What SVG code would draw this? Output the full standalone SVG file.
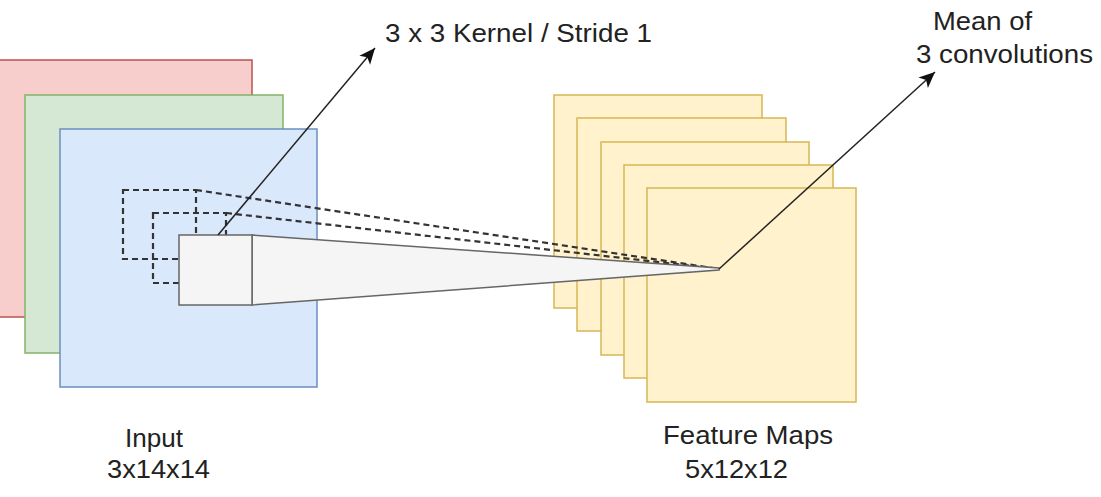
<svg xmlns="http://www.w3.org/2000/svg" width="1101" height="497" viewBox="0 0 1101 497">
<style>
  .lbl { font-family: "Liberation Sans", Arial, sans-serif; font-size: 25px; fill: #222; }
  .fm { fill: #fff2cc; stroke: #d6b656; stroke-width: 1.5; }
  .dash { fill: none; stroke: #333; stroke-width: 2.2; stroke-dasharray: 6 4; }
  .arr { fill: none; stroke: #222; stroke-width: 1.5; }
</style>
<defs>
  <marker id="ah" markerUnits="userSpaceOnUse" markerWidth="20" markerHeight="20" viewBox="0 0 20 20" refX="18" refY="10" orient="auto">
    <path d="M2,3 L18,10 L2,17 L6,10 Z" fill="#111"/>
  </marker>
</defs>
<rect width="1101" height="497" fill="#ffffff"/>
<g id="input-red"><rect x="-6" y="60" width="258" height="257" fill="#f8cecc" stroke="#b85450" stroke-width="1.5"/></g>
<g id="input-green"><rect x="25" y="95" width="258" height="258" fill="#d5e8d4" stroke="#82b366" stroke-width="1.5"/></g>
<g id="input-blue"><rect x="60" y="129" width="257" height="258" fill="#dae8fc" stroke="#6c8ebf" stroke-width="1.5"/></g>
<g id="feature-maps">
  <rect class="fm" x="554" y="95" width="208" height="213"/>
  <rect class="fm" x="577" y="118" width="209" height="213"/>
  <rect class="fm" x="601" y="142" width="208" height="213"/>
  <rect class="fm" x="624" y="165" width="209" height="213"/>
  <rect class="fm" x="647" y="188" width="209" height="214"/>
</g>
<g id="connectors">
  <rect class="dash" x="123" y="190" width="73" height="69"/>
  <rect class="dash" x="153" y="213" width="73" height="70"/>
  <line class="dash" x1="196" y1="190" x2="719" y2="269"/>
  <line class="dash" x1="226" y1="213" x2="719" y2="269"/>
</g>
<g id="kernel">
  <path d="M252,235 L719,268 L719,270 L252,305 Z" fill="#f5f5f5" stroke="#666666" stroke-width="1.5"/>
  <rect x="179" y="235" width="73" height="70" fill="#f5f5f5" stroke="#666666" stroke-width="1.5"/>
</g>
<g id="arrows">
  <line class="arr" x1="218" y1="235" x2="375" y2="48" marker-end="url(#ah)"/>
  <line class="arr" x1="719" y1="269" x2="935" y2="72" marker-end="url(#ah)"/>
</g>
<g id="labels">
  <text class="lbl" x="385" y="42" textLength="267" lengthAdjust="spacingAndGlyphs">3 x 3 Kernel / Stride 1</text>
  <text class="lbl" x="933" y="30" textLength="99" lengthAdjust="spacingAndGlyphs">Mean of</text>
  <text class="lbl" x="916" y="63" textLength="177" lengthAdjust="spacingAndGlyphs">3 convolutions</text>
  <text class="lbl" x="125" y="447" textLength="58" lengthAdjust="spacingAndGlyphs">Input</text>
  <text class="lbl" x="107" y="478" textLength="103" lengthAdjust="spacingAndGlyphs">3x14x14</text>
  <text class="lbl" x="663" y="444" textLength="170" lengthAdjust="spacingAndGlyphs">Feature Maps</text>
  <text class="lbl" x="685" y="478" textLength="103" lengthAdjust="spacingAndGlyphs">5x12x12</text>
</g>
</svg>
